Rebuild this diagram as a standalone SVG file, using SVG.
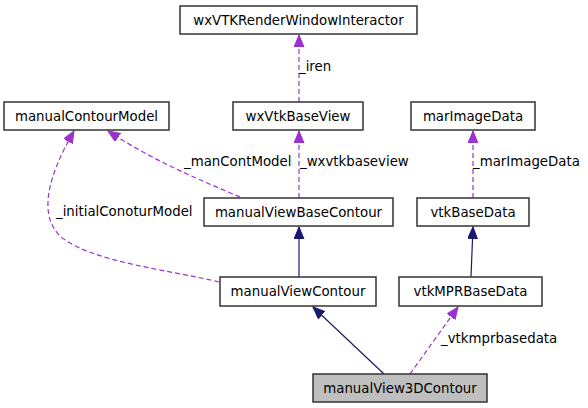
<svg xmlns="http://www.w3.org/2000/svg" width="588" height="408" viewBox="0 0 588 408">
<style>
.box{fill:#ffffff;stroke:#333333;stroke-width:1.5}
.cur{fill:#bfbfbf;stroke:#333333;stroke-width:1.5}
text{font-family:"DejaVu Sans","Liberation Sans",sans-serif;font-size:13.33px;fill:#000}
.nt{text-anchor:middle}
.inh{fill:none;stroke:#191970;stroke-width:1.2}
.use{fill:none;stroke:#9a32cd;stroke-width:1.2;stroke-dasharray:5,3}
</style>
<defs>
<marker id="an" markerUnits="userSpaceOnUse" markerWidth="14" markerHeight="12" refX="12" refY="5" orient="auto">
<path d="M0,0 L12,5 L0,10 z" fill="#191970" stroke="#191970"/>
</marker>
<marker id="ap" markerUnits="userSpaceOnUse" markerWidth="14" markerHeight="12" refX="12" refY="5" orient="auto">
<path d="M0,0 L12,5 L0,10 z" fill="#9a32cd" stroke="#9a32cd"/>
</marker>
</defs>
<g id="connectors">
<path class="use" d="M299,102 L299,35" marker-end="url(#ap)"/>
<text x="299" y="71">_iren</text>
<path class="use" d="M299,198 L299,131" marker-end="url(#ap)"/>
<text x="300" y="166">_wxvtkbaseview</text>
<path class="use" d="M240,197 C205,182 155,162 108,131" marker-end="url(#ap)"/>
<text x="184" y="166">_manContModel</text>
<path class="use" d="M219,282 C170,270 90,262 60,236 C38,214 48,176 74,131" marker-end="url(#ap)"/>
<text x="56" y="216">_initialConoturModel</text>
<path class="use" d="M473,198 L473,131" marker-end="url(#ap)"/>
<text x="473" y="166">_marImageData</text>
<path class="inh" d="M299,277 L299,227" marker-end="url(#an)"/>
<path class="inh" d="M471,277 L473,227" marker-end="url(#an)"/>
<path class="inh" d="M384,374 L313,307" marker-end="url(#an)"/>
<path class="use" d="M410,374 L458,307" marker-end="url(#ap)"/>
<text x="441" y="343">_vtkmprbasedata</text>
</g>
<g id="wxVTKRenderWindowInteractor"><rect class="box" x="180" y="6" width="237" height="28"/><text class="nt" x="298.5" y="24.5">wxVTKRenderWindowInteractor</text></g>
<g id="manualContourModel"><rect class="box" x="4" y="102" width="165" height="28"/><text class="nt" x="86.5" y="120.5">manualContourModel</text></g>
<g id="wxVtkBaseView"><rect class="box" x="233" y="102" width="130" height="28"/><text class="nt" x="298" y="120.5">wxVtkBaseView</text></g>
<g id="marImageData"><rect class="box" x="411" y="102" width="124" height="28"/><text class="nt" x="473" y="120.5">marImageData</text></g>
<g id="manualViewBaseContour"><rect class="box" x="204" y="198" width="189" height="28"/><text class="nt" x="298.5" y="216.5">manualViewBaseContour</text></g>
<g id="vtkBaseData"><rect class="box" x="417" y="198" width="112" height="28"/><text class="nt" x="473" y="216.5">vtkBaseData</text></g>
<g id="manualViewContour"><rect class="box" x="220" y="277" width="156" height="29"/><text class="nt" x="298" y="295.5">manualViewContour</text></g>
<g id="vtkMPRBaseData"><rect class="box" x="399" y="277" width="143" height="29"/><text class="nt" x="470.5" y="295.5">vtkMPRBaseData</text></g>
<g id="manualView3DContour"><rect class="cur" x="313" y="374" width="174" height="28"/><text class="nt" x="400" y="392.5">manualView3DContour</text></g>
</svg>
